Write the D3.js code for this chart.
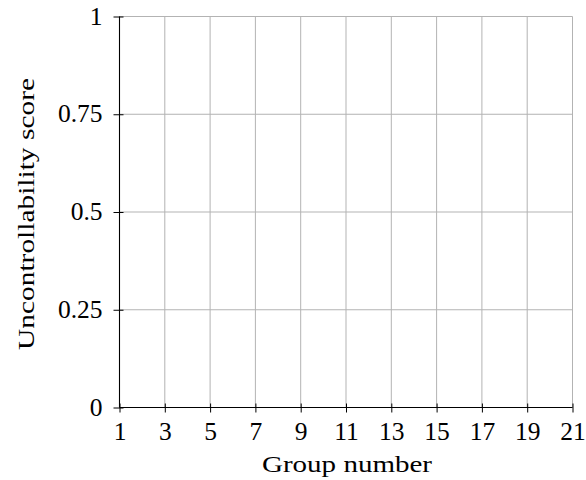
<!DOCTYPE html>
<html><head><meta charset="utf-8">
<script src="https://cdn.jsdelivr.net/npm/d3@7"></script>
<style>body{margin:0;background:#fff}text{font-family:"Liberation Serif","DejaVu Serif",serif;fill:#000}</style>
</head><body><svg id="c" width="586" height="480"></svg>
<script>
const xTicks = [1,3,5,7,9,11,13,15,17,19,21];
const yTicks = [0,0.25,0.5,0.75,1];
const yTickLabels = ["0","0.25","0.5","0.75","1"];
const xTitle = "Group number";
const yTitle = "Uncontrollability score";

const svg = d3.select("#c");
const m = {l:119.5, r:572.5, t:16.5, b:407.5};
const x = d3.scaleLinear().domain([1,21]).range([m.l, m.r]);
const y = d3.scaleLinear().domain([0,1]).range([m.b, m.t]);
const grid = "#b3b3b3";

svg.append("g").selectAll("line").data(xTicks).join("line")
  .attr("x1",d=>x(d)).attr("x2",d=>x(d)).attr("y1",m.t).attr("y2",m.b)
  .attr("stroke",grid).attr("stroke-width",1);
svg.append("g").selectAll("line").data(yTicks).join("line")
  .attr("y1",d=>y(d)).attr("y2",d=>y(d)).attr("x1",m.l).attr("x2",m.r)
  .attr("stroke",grid).attr("stroke-width",1);

const xa = svg.append("g").attr("transform",`translate(0,${m.b})`)
  .call(d3.axisBottom(x).tickValues(xTicks).tickSize(5).tickFormat(d3.format("d")));
const ya = svg.append("g").attr("transform",`translate(${m.l},0)`)
  .call(d3.axisLeft(y).tickValues(yTicks).tickSize(5).tickFormat((d,i)=>yTickLabels[i]));
[xa,ya].forEach(a=>{
  a.attr("font-family",null).attr("font-size",null);
  a.select(".domain").attr("stroke","#000").attr("stroke-width",1.1);
  a.selectAll(".tick line").attr("stroke","#000").attr("stroke-width",1);
  a.selectAll(".tick text").attr("font-size",25.5);
});
xa.selectAll(".tick line").attr("y1",-4).attr("y2",5);
ya.selectAll(".tick line").attr("x1",4).attr("x2",-6);
xa.selectAll(".tick text").attr("y",32).attr("dy",0);
ya.selectAll(".tick text").attr("x",-17).attr("dy","0.3em");
xa.select(".domain").attr("d",`M${m.l},0H${m.r}`);
ya.select(".domain").attr("d",`M0,${m.b}V${m.t}`);

svg.append("text").attr("x",(m.l+m.r)/2 + 1).attr("y",472).attr("text-anchor","middle")
  .attr("font-size",23).attr("textLength",170).attr("lengthAdjust","spacingAndGlyphs").text(xTitle);
svg.append("text").attr("transform",`translate(34,214) rotate(-90)`)
  .attr("text-anchor","middle").attr("font-size",23)
  .attr("textLength",272).attr("lengthAdjust","spacingAndGlyphs").text(yTitle);
</script></body></html>
